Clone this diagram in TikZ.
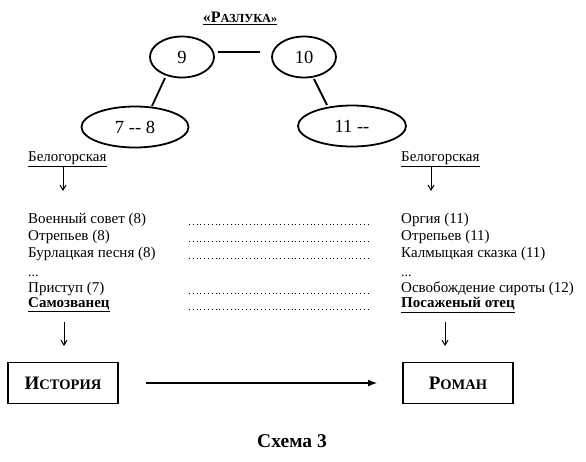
\documentclass[tikz,border=0pt]{standalone}
\usepackage{fontspec}
\setmainfont{Liberation Serif}
\usetikzlibrary{arrows.meta,shapes.geometric}
\tikzset{
  oval/.style={ellipse,draw,line width=1.8pt,minimum width=#1,minimum height=41pt,inner sep=0pt,font=\fontsize{18.5}{20}\selectfont},
  rowtxt/.style={anchor=west,inner sep=0pt,font=\fontsize{15}{17}\selectfont},
  dotstxt/.style={anchor=base west,inner sep=0pt,font=\fontsize{14}{15}\selectfont},
  link/.style={line width=1.8pt},
  down/.style={line width=1pt,-{Straight Barb[length=5pt,width=6pt,line width=1pt]}},
  leader/.style={line width=0.9pt,dash pattern=on 0.6pt off 3.2pt},
  bigbox/.style={draw,line width=1.8pt,minimum width=110pt,minimum height=41pt,inner sep=0pt},
}
\newcommand{\bsc}[2]{{\fontsize{19}{21}\selectfont\bfseries #1}{\fontsize{14.5}{16}\selectfont\bfseries #2}}
\begin{document}
\begin{tikzpicture}[x=1pt,y=-1pt]
\useasboundingbox (0,0) rectangle (586,461);
% title
\node (title) at (240,18) {\underline{{\fontsize{16}{18}\selectfont\bfseries «Р}{\fontsize{12.3}{14}\selectfont\bfseries АЗЛУКА»}}};
% ellipses
\node[oval=64pt] (e9) at (182,57) {9};
\node[oval=64pt] (e10) at (304,57) {10};
\node[oval=107pt] (e78) at (135,127) {7 -{}- 8};
\node[oval=108pt] (e11) at (352,126) {11 -{}-};
\coordinate (h1) at (218,52);
\coordinate (h2) at (260,52);
\coordinate (s9) at (165,78);
\coordinate (s78) at (152,106);
\coordinate (s10) at (314,79);
\coordinate (s11) at (327,105);
\draw[link] (h1) -- (h2);
\draw[link] (s9) -- (s78);
\draw[link] (s10) -- (s11);
% Belogorskaya
\node[rowtxt] (bl) at (28,159) {\underline{Белогорская}};
\node[rowtxt] (br) at (401,159) {\underline{Белогорская}};
\coordinate (al1) at (63,167);
\coordinate (al2) at (63,191);
\coordinate (ar1) at (431,167);
\coordinate (ar2) at (431,191);
\draw[down] (al1) -- (al2);
\draw[down] (ar1) -- (ar2);
% left rows
\node[rowtxt] (l1) at (28,220) {Военный совет (8)};
\node[rowtxt] (l2) at (28,237) {Отрепьев (8)};
\node[rowtxt] (l3) at (28,254) {Бурлацкая песня (8)};
\node[dotstxt] (l4) at (28,276) {...};
\node[rowtxt] (l5) at (28,288.5) {Приступ (7)};
\node[rowtxt] (l6) at (28,305) {\underline{\bfseries Самозванец}};
% right rows
\node[rowtxt] (r1) at (401,220) {Оргия (11)};
\node[rowtxt] (r2) at (401,237) {Отрепьев (11)};
\node[rowtxt] (r3) at (401,254) {Калмыцкая сказка (11)};
\node[dotstxt] (r4) at (401,276) {...};
\node[rowtxt] (r5) at (401,288.5) {Освобождение сироты (12)};
\node[rowtxt] (r6) at (401,305) {\underline{\bfseries Посаженый отец}};
% leaders
\foreach \y in {224.5,241.5,258.5,293,309.5}{
  \draw[leader] (189,\y) -- (371,\y);
}
% lower arrows
\coordinate (bl1) at (64,322);
\coordinate (bl2) at (64,346);
\coordinate (br1) at (445,322);
\coordinate (br2) at (445,346);
\draw[down] (bl1) -- (bl2);
\draw[down] (br1) -- (br2);
% boxes
\node[bigbox] (hist) at (63,383) {\bsc{И}{СТОРИЯ}};
\node[bigbox] (rom) at (458,383) {\bsc{Р}{ОМАН}};
\draw[line width=1.3pt,-{Latex[length=9pt,width=7pt]}] ([xshift=27pt]hist.east) -- ([xshift=-25pt]rom.west);
% caption
\node[font=\fontsize{19.5}{21}\selectfont\bfseries] (cap) at (292,441) {Схема 3};
\end{tikzpicture}
\end{document}
